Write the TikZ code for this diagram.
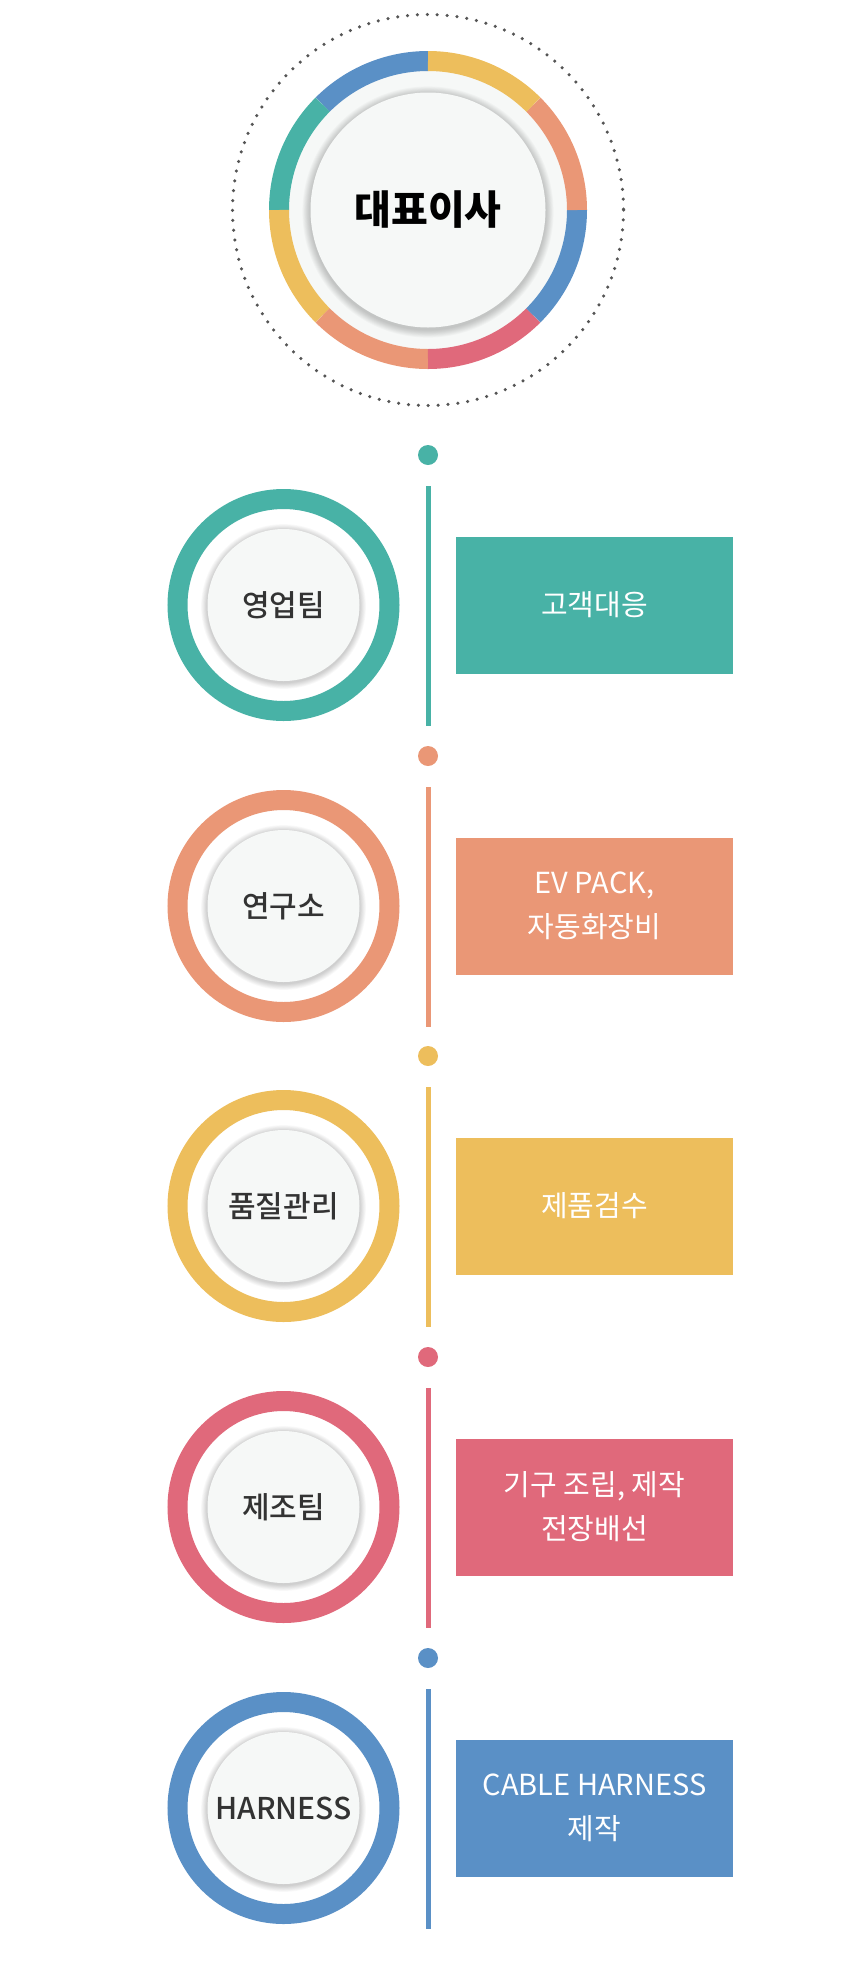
\documentclass[tikz,border=0pt]{standalone}
\usepackage{fontspec}
\setmainfont{Noto Sans CJK KR}
\newfontfamily\krmed{Noto Sans CJK KR Medium}
\definecolor{cteal}{HTML}{48B2A6}
\definecolor{corange}{HTML}{EA9776}
\definecolor{cyellow}{HTML}{EDBE5C}
\definecolor{cred}{HTML}{E0697B}
\definecolor{cblue}{HTML}{5A90C6}
\definecolor{cdisk}{HTML}{F6F8F7}
\definecolor{ctext}{HTML}{333333}
\definecolor{cdots}{HTML}{555555}
\begin{document}
\begin{tikzpicture}[x=1pt,y=-1pt,
  ringnode/.style={circle, draw=#1, line width=20pt, minimum size=212pt, inner sep=0pt, fill=white},
  disknode/.style={circle, fill=cdisk, minimum size=152pt, inner sep=0pt, text=ctext, font=\krmed\fontsize{30}{36}\selectfont},
  boxnode/.style={rectangle, fill=#1, minimum width=277pt, minimum height=137pt, inner sep=0pt, text=white, align=center, font=\fontsize{29}{44}\selectfont},
  dotnode/.style={circle, fill=#1, minimum size=20pt, inner sep=0pt},
  vline/.style={draw=#1, line width=5pt}
]
\useasboundingbox (0,0) rectangle (854,1976);
% top circle
\coordinate (c0) at (428,210);
\draw[cdots, line width=3.5pt, line cap=round, dash pattern=on 0pt off 9.9pt] (c0) circle (195.5);
\fill[cdisk] (c0) circle (140);
\foreach \s/\col in {90/cblue,135/cteal,180/cyellow,225/corange,270/cred,315/cblue,0/corange,45/cyellow}{
  \draw[\col, line width=20pt] ([shift={(-\s:149)}]c0) arc[start angle=-\s, end angle=-\s-45, radius=149];
}
\foreach \i in {1,...,9}{
  \fill[black, opacity=0.022] (428,212) circle ({117.5+\i*0.9});
}
\node[circle, fill=cdisk, minimum size=235pt, inner sep=0pt, font=\fontsize{40}{44}\selectfont\bfseries] (ceo) at (c0) {대표이사};
% rows
\foreach \i/\y/\col/\left/\right in {
  1/605/cteal/영업팀/고객대응,
  2/906/corange/연구소/{EV PACK,\\자동화장비},
  3/1206/cyellow/품질관리/제품검수,
  4/1507/cred/제조팀/{기구 조립, 제작\\전장배선},
  5/1808/cblue/HARNESS/{CABLE HARNESS\\제작}}{
  \node[dotnode=\col] (dot\i) at (428,\y-150) {};
  \coordinate (lt\i) at (428,\y-119);
  \coordinate (lb\i) at (428,\y+121);
  \draw[vline=\col] (lt\i) -- (lb\i);
  \node[ringnode=\col] (ring\i) at (283.5,\y) {};
  \foreach \k in {1,...,8}{
    \fill[black, opacity=0.024] (283.5,\y+1.5) circle ({76+\k*0.8});
  }
  \node[disknode] (team\i) at (283.5,\y) {\left};
  \node[boxnode=\col] (task\i) at (594.5,\y) {\right};
}
\end{tikzpicture}
\end{document}
